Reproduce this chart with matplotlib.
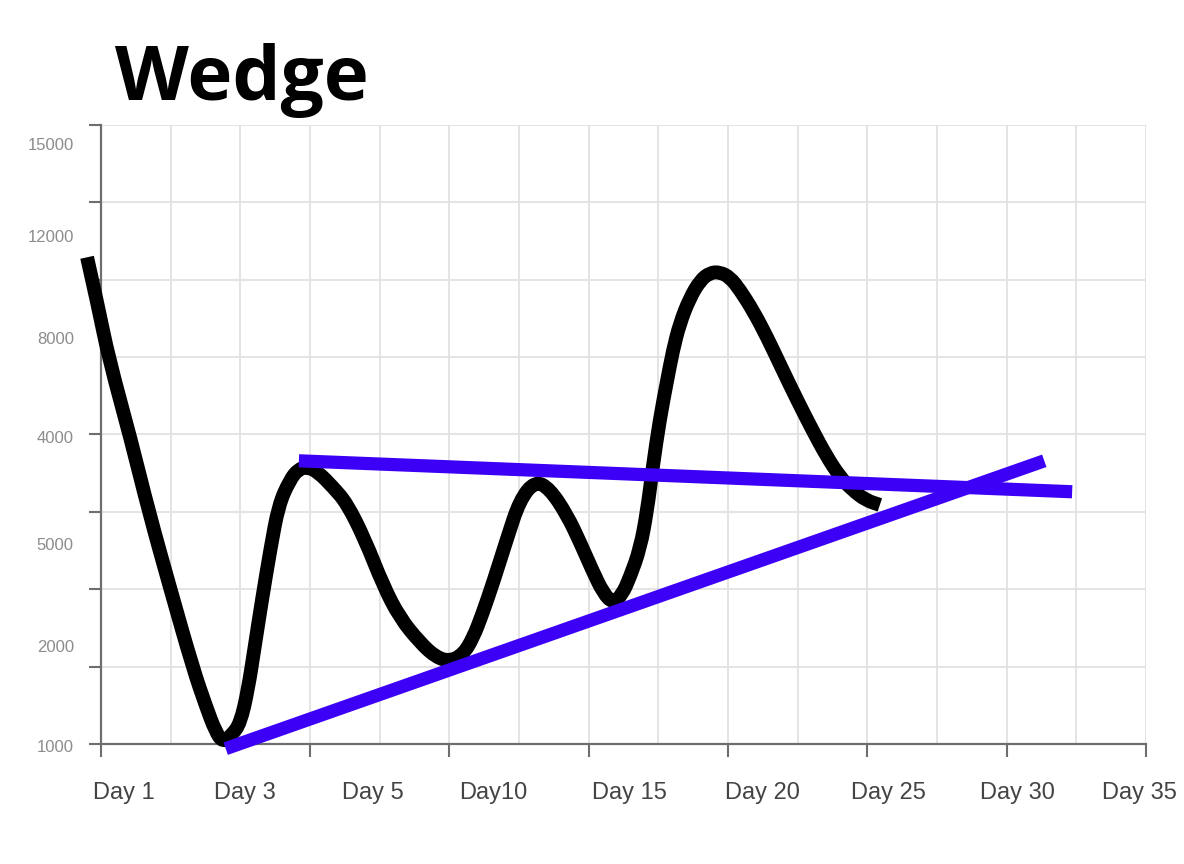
import numpy as np
import matplotlib
matplotlib.use('Agg')
import matplotlib.pyplot as plt
from matplotlib.path import Path
from matplotlib.patches import PathPatch

# ------------------------------------------------------------
# Data (axis units: x = grid columns 0..15, y = grid rows 0..8)
# ------------------------------------------------------------
price_x = [-0.20, -0.04, 0.11, 0.43, 0.69, 1.00, 1.32, 1.51, 1.64, 1.75,
           1.88, 2.00, 2.11, 2.21, 2.31, 2.43, 2.55, 2.71, 2.83, 2.96,
           3.11, 3.33, 3.53, 3.79, 4.05, 4.29, 4.58, 4.81, 5.01, 5.20,
           5.34, 5.47, 5.63, 5.83, 6.01, 6.23, 6.44, 6.69, 6.88, 7.05,
           7.21, 7.35, 7.48, 7.59, 7.74, 7.84, 7.92, 8.02, 8.12, 8.21,
           8.31, 8.45, 8.60, 8.74, 8.88, 9.03, 9.17, 9.36, 9.56, 9.77,
           9.99, 10.21, 10.42, 10.61, 10.79, 10.98, 11.18]
price_y = [6.29, 5.65, 4.99, 3.93, 2.99, 1.99, 0.98, 0.48, 0.17, 0.02,
           0.12, 0.27, 0.70, 1.28, 1.86, 2.51, 3.09, 3.41, 3.55, 3.58,
           3.52, 3.32, 3.11, 2.64, 2.05, 1.63, 1.31, 1.12, 1.07, 1.16,
           1.37, 1.67, 2.09, 2.66, 3.15, 3.40, 3.30, 2.96, 2.60, 2.25,
           1.95, 1.82, 1.93, 2.15, 2.53, 3.02, 3.58, 4.19, 4.67, 5.09,
           5.44, 5.76, 5.99, 6.09, 6.10, 6.03, 5.87, 5.60, 5.26, 4.86,
           4.45, 4.06, 3.71, 3.45, 3.28, 3.15, 3.09]

upper_x = [2.84, 13.94]
upper_y = [3.66, 3.26]
lower_x = [1.79, 13.54]
lower_y = [-0.06, 3.66]

x_tick_pos = [0, 3, 5, 7, 9, 11, 13, 15]
x_label_pos = [0.33, 2.07, 3.90, 5.63, 7.58, 9.49, 11.31, 13.15, 14.90]
x_labels = ['Day 1', 'Day 3', 'Day 5', 'Day10', 'Day 15', 'Day 20',
            'Day 25', 'Day 30', 'Day 35']

y_tick_pos = [0, 1, 2, 3, 4, 6, 7, 8]
y_label_pos = [7.74, 6.55, 5.23, 3.95, 2.57, 1.25, -0.05]
y_labels = ['15000', '12000', '8000', '4000', '5000', '2000', '1000']

BLUE = '#3D00F7'

fig = plt.figure(figsize=(11.84, 8.64), dpi=100)
ax = fig.add_axes([101/1184, 120/864, 1045/1184, 619/864])

ax.set_xlim(0, 15)
ax.set_ylim(0, 8)

# grid
ax.set_xticks(range(16), minor=True)
ax.set_yticks(range(9), minor=True)
ax.set_xticks(x_tick_pos)
ax.set_yticks(y_tick_pos)
ax.grid(True, which='both', color='#e2e2e2', lw=1.3, zorder=0)
ax.tick_params(which='minor', length=0)
ax.set_xticklabels([])
ax.set_yticklabels([])
ax.tick_params(which='major', direction='out', length=9, width=1.5,
               color='#6e6e6e')

for s in ['top', 'right']:
    ax.spines[s].set_visible(False)
for s in ['left', 'bottom']:
    ax.spines[s].set_color('#6e6e6e')
    ax.spines[s].set_linewidth(1.6)

# price curve, drawn as a smooth quadratic path through the traced points
pts = np.column_stack([price_x, price_y])
verts = [pts[0]]
codes = [Path.MOVETO]
for i in range(1, len(pts) - 1):
    verts += [pts[i], (pts[i] + pts[i + 1]) / 2]
    codes += [Path.CURVE3, Path.CURVE3]
verts.append(pts[-1])
codes.append(Path.LINETO)
ax.add_patch(PathPatch(Path(verts, codes), facecolor='none',
                       edgecolor='black', lw=10, joinstyle='round',
                       capstyle='butt', clip_on=False, zorder=3))

# wedge lines
ax.plot(upper_x, upper_y, color=BLUE, lw=9.5, solid_capstyle='butt',
        clip_on=False, zorder=4)
ax.plot(lower_x, lower_y, color=BLUE, lw=9.5, solid_capstyle='butt',
        clip_on=False, zorder=4)

# labels placed freely like the original drawing
for xp, lab in zip(x_label_pos, x_labels):
    ax.text(xp, -0.63, lab, ha='center', va='center', fontsize=17,
            color='#444444', family='Liberation Sans', clip_on=False)
for yp, lab in zip(y_label_pos, y_labels):
    ax.text(-0.39, yp, lab, ha='right', va='center', fontsize=12,
            color='#8c8c8c', family='Liberation Sans', clip_on=False)

fig.text(115/1184, 1 - 100/864, 'Wedge', fontsize=55, fontweight='bold',
         family='Open Sans', color='black', va='baseline', ha='left')

fig.savefig('out.png', dpi=100)
